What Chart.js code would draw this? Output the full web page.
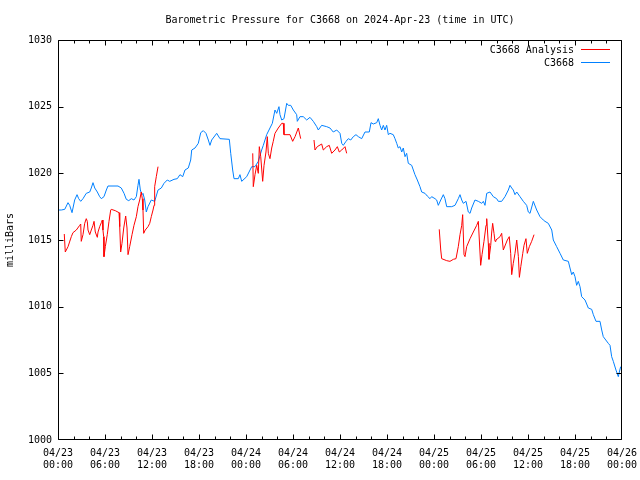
<!DOCTYPE html>
<html>
<head>
<meta charset="utf-8">
<script src="https://cdn.jsdelivr.net/npm/chart.js@4/dist/chart.umd.min.js"></script>
<style>
html,body{margin:0;padding:0;background:#fff;}
#wrap{width:640px;height:480px;position:relative;}
</style>
</head>
<body>
<div id="wrap"><canvas id="c" width="640" height="480"></canvas></div>
<script>
// ---- data (hours since 04/23 00:00 UTC, pressure in mb) ----
const chartTitle = "Barometric Pressure for C3668 on 2024-Apr-23 (time in UTC)";
const yAxisLabel = "milliBars";
const seriesNames = ["C3668 Analysis", "C3668"];
const xTickLabels = [
  ["04/23","00:00"],["04/23","06:00"],["04/23","12:00"],["04/23","18:00"],
  ["04/24","00:00"],["04/24","06:00"],["04/24","12:00"],["04/24","18:00"],
  ["04/25","00:00"],["04/25","06:00"],["04/25","12:00"],["04/25","18:00"],
  ["04/26","00:00"]
];
const yTicks = [1000, 1005, 1010, 1015, 1020, 1025, 1030];

const stationHours = [0,0.42,0.86,1.28,1.49,1.79,2.13,2.43,2.64,2.90,3.19,3.61,4.05,4.25,4.47,4.69,5.02,5.32,5.53,5.87,6.17,6.38,7.66,8.08,8.43,8.72,9.03,9.36,9.70,10.0,10.21,10.34,10.51,10.72,10.85,11.07,11.27,11.49,11.91,12.34,12.77,13.19,13.53,13.95,14.26,14.81,15.23,15.57,15.92,16.21,16.63,16.94,17.07,17.49,17.91,18.22,18.55,18.89,19.19,19.40,19.62,20.26,20.68,21.87,22.05,22.30,22.47,23.02,23.23,23.45,24.09,24.73,25.15,25.57,26.0,26.21,26.64,27.06,27.36,27.70,27.92,28.21,28.34,28.56,28.85,29.20,29.40,29.71,30.04,30.47,30.55,30.89,31.31,31.75,32.17,32.59,33.03,33.23,33.66,34.30,34.72,35.14,35.58,36.0,36.22,36.42,36.77,37.06,37.37,37.70,38.04,38.34,38.77,39.19,39.74,39.96,40.25,40.69,40.89,41.11,41.32,41.53,41.74,41.96,42.17,42.38,42.80,43.02,43.24,43.44,43.66,43.88,44.08,44.30,44.51,44.72,45.15,45.36,45.57,45.87,46.21,46.43,46.85,47.14,47.49,47.70,48.13,48.34,48.55,48.86,49.19,49.40,49.62,50.26,50.68,51.10,51.32,51.54,51.74,52.09,52.38,52.60,52.81,53.23,53.66,54.09,54.30,54.51,54.73,55.15,55.57,56.0,56.21,56.64,57.06,57.49,57.70,57.92,58.12,58.34,58.56,58.98,59.40,59.83,60.04,60.26,60.68,61.11,61.53,61.95,62.17,62.59,63.03,63.23,63.66,64.09,64.51,65.15,65.36,65.58,65.78,66.0,66.21,66.42,66.64,66.85,67.28,67.70,68.13,68.34,68.68,69.19,69.41,69.61,70.25,70.47,70.68,70.89,71.23,71.53,71.66,71.83];
const stationPressure = [1017.25,1017.25,1017.3,1017.8,1017.6,1017.05,1018.0,1018.4,1018.1,1017.9,1018.1,1018.5,1018.6,1018.9,1019.3,1018.9,1018.6,1018.25,1018.1,1018.25,1018.75,1019.05,1019.05,1018.9,1018.5,1018.05,1017.95,1018.1,1018.0,1018.25,1019.1,1019.55,1018.75,1018.4,1018.5,1018.0,1017.1,1017.5,1018.0,1017.9,1018.75,1018.9,1019.25,1019.5,1019.4,1019.55,1019.6,1019.9,1019.75,1020.25,1020.4,1021.0,1021.75,1021.9,1022.25,1023.05,1023.2,1023.0,1022.5,1022.1,1022.5,1023.0,1022.6,1022.55,1021.5,1020.25,1019.6,1019.6,1019.9,1019.4,1019.75,1020.5,1020.5,1020.9,1021.75,1022.1,1022.9,1023.4,1023.75,1024.75,1024.5,1025.0,1024.4,1024.0,1024.1,1025.25,1025.1,1025.1,1024.75,1024.4,1023.9,1024.25,1024.25,1024.0,1024.2,1023.9,1023.5,1023.25,1023.6,1023.5,1023.4,1023.1,1023.25,1023.0,1022.25,1022.1,1022.4,1022.6,1022.5,1022.75,1022.9,1022.75,1022.6,1023.1,1023.1,1023.8,1023.7,1023.8,1024.1,1023.6,1023.25,1023.6,1023.25,1023.6,1022.9,1023.0,1022.9,1022.6,1022.25,1021.9,1022.0,1021.6,1021.9,1021.25,1021.5,1020.75,1020.6,1020.25,1019.9,1019.5,1019.0,1018.6,1018.5,1018.3,1018.1,1018.25,1018.1,1018.0,1017.6,1018.0,1018.4,1018.1,1017.5,1017.5,1017.6,1018.1,1018.4,1018.0,1017.75,1017.9,1017.1,1017.0,1017.4,1018.0,1017.9,1017.75,1017.9,1017.6,1018.5,1018.6,1018.25,1018.1,1017.9,1017.9,1018.25,1018.75,1019.1,1018.9,1018.75,1018.4,1018.6,1018.25,1017.9,1017.6,1017.1,1017.0,1017.9,1017.25,1016.75,1016.5,1016.4,1016.25,1015.75,1015.0,1014.5,1014.0,1013.5,1013.4,1012.9,1012.4,1012.6,1012.25,1011.6,1011.9,1011.5,1010.75,1010.5,1009.9,1009.8,1009.4,1008.9,1008.9,1008.25,1007.75,1007.25,1007.1,1006.25,1005.9,1005.25,1004.75,1005.1,1005.5];

// null entries mark gaps between analysis runs
const analysisHours = [0.80,0.93,1.28,1.70,1.91,2.34,2.77,2.90,2.97,3.19,3.41,3.61,3.74,3.83,4.05,4.25,4.47,4.60,4.76,5.02,5.11,5.32,5.53,5.66,5.74,5.83,5.87,6.04,6.29,6.51,6.73,6.80,7.31,7.79,7.88,8.0,8.17,8.39,8.64,8.81,8.94,9.15,9.45,9.70,10.0,10.21,10.43,10.63,10.76,10.85,10.94,11.14,11.49,11.71,11.91,12.13,12.26,12.34,12.55,12.77,
  18,
  24.86,24.93,25.15,25.37,25.57,25.70,25.88,26.13,26.30,26.55,26.72,26.85,27.06,27.28,27.48,27.70,28.12,28.56,28.76,28.85,29.62,29.96,30.26,30.68,30.98,
  31.8,
  32.68,32.81,33.10,33.66,33.87,34.30,34.63,34.94,35.36,35.66,35.91,36.22,36.64,36.85,
  42,
  48.67,48.86,48.98,49.62,50.04,50.47,50.81,51.10,51.32,51.54,51.66,51.83,51.96,52.17,52.60,53.02,53.45,53.66,53.87,53.96,54.13,54.38,54.64,54.73,54.93,55.02,55.24,55.37,55.49,55.66,55.79,55.91,56.43,56.64,56.85,57.36,57.61,57.79,57.92,58.12,58.34,58.56,58.77,58.90,59.08,59.33,59.49,59.74,59.91,60.17,60.47,60.77];
const analysisPressure = [1015.45,1014.1,1014.5,1015.25,1015.55,1015.75,1016.1,1016.2,1014.9,1015.4,1016.25,1016.6,1016.4,1015.75,1015.4,1015.75,1016.1,1016.4,1015.6,1015.2,1015.6,1016.0,1016.3,1016.5,1015.75,1015.25,1013.75,1014.5,1015.4,1016.4,1017.25,1017.3,1017.2,1017.05,1016.0,1014.1,1014.75,1015.9,1016.8,1015.9,1013.9,1014.5,1015.4,1016.1,1016.75,1017.5,1018.0,1018.6,1018.1,1017.25,1015.5,1015.75,1016.0,1016.25,1016.75,1017.25,1017.6,1019.0,1019.75,1020.5,
  null,
  1021.5,1019.0,1019.9,1020.6,1020.0,1022.0,1021.25,1019.4,1020.6,1021.6,1022.75,1021.5,1021.1,1021.9,1022.4,1023.0,1023.4,1023.75,1023.75,1022.9,1022.9,1022.4,1022.75,1023.4,1022.6,
  null,
  1022.5,1021.75,1022.0,1022.2,1021.75,1022.0,1022.1,1021.5,1021.75,1022.0,1021.6,1021.75,1022.0,1021.5,
  null,
  1015.8,1014.25,1013.6,1013.45,1013.4,1013.55,1013.6,1014.5,1015.4,1016.1,1016.9,1013.9,1013.75,1014.5,1015.1,1015.6,1016.1,1016.4,1014.1,1013.1,1013.9,1014.9,1016.1,1016.6,1014.75,1013.55,1014.6,1015.6,1016.25,1015.5,1014.9,1015.0,1015.25,1015.5,1014.25,1015.0,1015.25,1014.0,1012.4,1013.25,1014.0,1015.0,1013.75,1012.2,1013.0,1014.0,1014.6,1015.1,1014.0,1014.5,1014.9,1015.4];

const seriesColors = ["#ff0000", "#0080ff"];
const FONT = "10px 'DejaVu Sans Mono'";

const toPts = (xs, ys) => xs.map((x, i) => ({x: x, y: ys[i]}));

const framePlugin = {
  id: 'frame',
  afterDatasetsDraw(chart) {
    const ctx = chart.ctx;
    const a = chart.chartArea;
    const xs = chart.scales.x, ys = chart.scales.y;
    const L = Math.round(a.left) + 0.5, R = Math.round(a.right) - 0.5;
    const T = Math.round(a.top) + 0.5, B = Math.round(a.bottom) - 0.5;
    ctx.save();
    ctx.strokeStyle = '#000';
    ctx.lineWidth = 1;
    ctx.beginPath();
    ctx.rect(L, T, R - L, B - T);
    // y ticks (both sides, inward)
    yTicks.forEach(v => {
      const py = Math.min(B, Math.max(T, Math.round(ys.getPixelForValue(v)) + 0.5));
      ctx.moveTo(L, py); ctx.lineTo(L + 5, py);
      ctx.moveTo(R, py); ctx.lineTo(R - 5, py);
    });
    // x ticks every 2 h, majors every 6 h (bottom and top, inward)
    for (let h = 0; h <= 72; h += 2) {
      const px = Math.min(R, Math.max(L, Math.round(xs.getPixelForValue(h)) + 0.5));
      const len = (h % 6 === 0) ? 5 : 3;
      ctx.moveTo(px, B); ctx.lineTo(px, B - len);
      ctx.moveTo(px, T); ctx.lineTo(px, T + len);
    }
    ctx.stroke();

    ctx.fillStyle = '#000';
    ctx.font = FONT;
    // title
    ctx.textAlign = 'center';
    ctx.textBaseline = 'middle';
    ctx.fillText(chartTitle, (a.left + a.right) / 2, 20);
    // y axis label
    ctx.save();
    ctx.translate(10, (a.top + a.bottom) / 2);
    ctx.rotate(-Math.PI / 2);
    ctx.fillText(yAxisLabel, 0, 0);
    ctx.restore();
    // legend
    ctx.textAlign = 'right';
    const legendY = [50, 63];
    seriesNames.forEach((n, i) => {
      ctx.fillStyle = '#000';
      ctx.fillText(n, 574, legendY[i]);
      ctx.strokeStyle = seriesColors[i];
      ctx.beginPath();
      ctx.moveTo(581, legendY[i] - 0.5);
      ctx.lineTo(610, legendY[i] - 0.5);
      ctx.stroke();
    });
    ctx.restore();
  }
};

new Chart(document.getElementById('c'), {
  type: 'line',
  data: {
    datasets: [
      {
        label: seriesNames[0],
        data: toPts(analysisHours, analysisPressure),
        borderColor: seriesColors[0],
        borderWidth: 1,
        pointRadius: 0,
        tension: 0,
        spanGaps: false
      },
      {
        label: seriesNames[1],
        data: toPts(stationHours, stationPressure),
        borderColor: seriesColors[1],
        borderWidth: 1,
        pointRadius: 0,
        tension: 0
      }
    ]
  },
  options: {
    responsive: false,
    animation: false,
    devicePixelRatio: 1,
    layout: { padding: { top: 40, right: 18, left: 0, bottom: 0 } },
    plugins: { legend: { display: false }, title: { display: false }, tooltip: { enabled: false } },
    scales: {
      x: {
        type: 'linear',
        min: 0, max: 72,
        grid: { display: false, drawTicks: false },
        border: { display: false },
        ticks: {
          stepSize: 6,
          autoSkip: false,
          maxRotation: 0,
          padding: 7,
          color: '#000',
          font: { family: "'DejaVu Sans Mono'", size: 10, lineHeight: 1.25 },
          callback: v => xTickLabels[Math.round(v / 6)]
        },
        afterFit: s => { s.height = 40; s.paddingLeft = 0; s.paddingRight = 0; }
      },
      y: {
        min: 1000, max: 1030,
        grid: { display: false, drawTicks: false },
        border: { display: false },
        ticks: {
          stepSize: 5,
          padding: 6,
          color: '#000',
          font: { family: "'DejaVu Sans Mono'", size: 10 },
          callback: v => String(v)
        },
        afterFit: s => { s.width = 58; s.paddingTop = 0; s.paddingBottom = 0; }
      }
    }
  },
  plugins: [framePlugin]
});
</script>
</body>
</html>
